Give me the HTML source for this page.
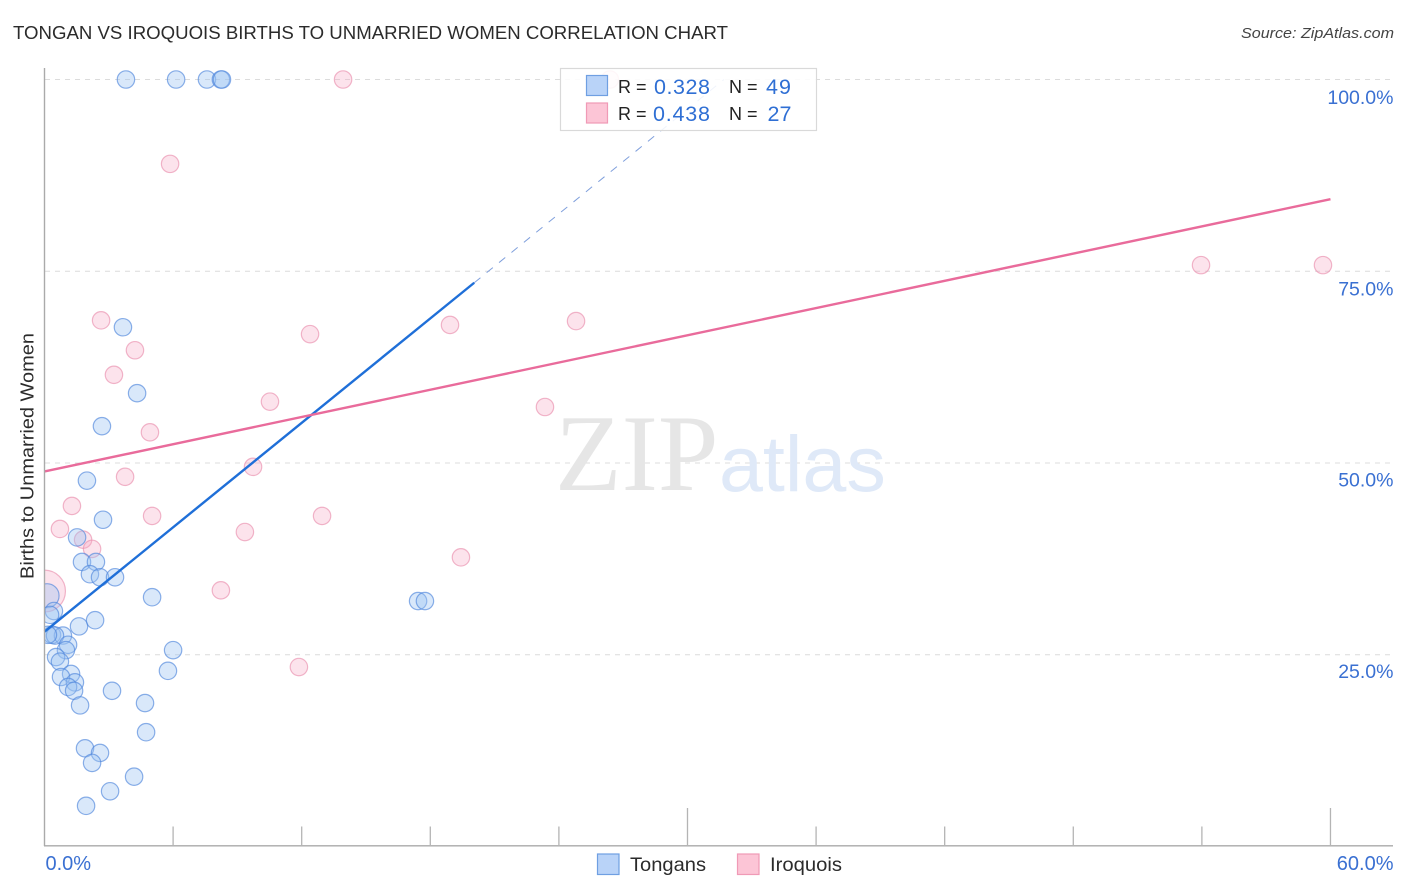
<!DOCTYPE html>
<html lang="en">
<head>
<meta charset="utf-8">
<title>Tongan vs Iroquois Births to Unmarried Women Correlation Chart</title>
<style>
html,body{margin:0;padding:0;background:#fff;}
body{width:1406px;height:892px;overflow:hidden;}
svg{display:block;font-family:"Liberation Sans",sans-serif;}
</style>
</head>
<body>
<svg id="chart" width="1406" height="892" viewBox="0 0 1406 892" xmlns="http://www.w3.org/2000/svg">
  <defs>
    <clipPath id="plot-clip"><rect x="45" y="60" width="1350" height="786"></rect></clipPath>
  </defs>
  <rect x="0" y="0" width="1406" height="892" fill="#fff"></rect>
  <text x="13" y="39" font-size="18.5" fill="#2b2b2b" textLength="715" lengthAdjust="spacingAndGlyphs">TONGAN VS IROQUOIS BIRTHS TO UNMARRIED WOMEN CORRELATION CHART</text>
  <text x="1241" y="38" font-size="15" font-style="italic" fill="#444" textLength="153" lengthAdjust="spacingAndGlyphs">Source: ZipAtlas.com</text>
  <text transform="translate(33.5,579) rotate(-90)" font-size="18.5" fill="#2b2b2b" textLength="246" lengthAdjust="spacingAndGlyphs">Births to Unmarried Women</text>
  <g id="grid"></g>
  <g>
    <text x="555" y="490" font-family="'Liberation Serif',serif" font-size="109" fill="#e6e6e6">ZIP</text>
    <text x="719" y="491" font-size="79" fill="#dfe9f8">atlas</text>
  </g>
  <g id="points" clip-path="url(#plot-clip)"></g>
  <g id="lines"></g>
  <g id="axes"></g>
  <g>
    <rect x="560.5" y="68.5" width="256" height="62" fill="#fff" fill-opacity="0.88" stroke="#d9d9d9" stroke-width="1.2"></rect>
    <rect x="586.5" y="75.5" width="21" height="20" fill="#b9d3f8" stroke="#6f9fe2" stroke-width="1.2"></rect>
    <rect x="586.5" y="103" width="21" height="20" fill="#fcc5d6" stroke="#f09ab6" stroke-width="1.2"></rect>
    <g font-size="18" fill="#222">
      <text x="618" y="93">R =</text>
      <text x="729" y="93">N =</text>
      <text x="618" y="120">R =</text>
      <text x="729" y="120">N =</text>
    </g>
    <g font-size="21.5" fill="#2f6fd4">
      <text x="654" y="94" textLength="56">0.328</text>
      <text x="766" y="94" textLength="25">49</text>
      <text x="653" y="121" textLength="57">0.438</text>
      <text x="767.5" y="121" textLength="24">27</text>
    </g>
  </g>
  <g>
    <rect x="597.5" y="854" width="21.5" height="20.5" fill="#b9d3f8" stroke="#6f9fe2" stroke-width="1.2"></rect>
    <text x="630" y="871" font-size="19.5" fill="#2b2b2b" textLength="76" lengthAdjust="spacingAndGlyphs">Tongans</text>
    <rect x="737.5" y="854" width="21.5" height="20.5" fill="#fcc5d6" stroke="#f09ab6" stroke-width="1.2"></rect>
    <text x="770" y="871" font-size="19.5" fill="#2b2b2b" textLength="72" lengthAdjust="spacingAndGlyphs">Iroquois</text>
  </g>
</svg>
<script>
const tonganX = [3.80,6.14,7.58,8.23,8.28,3.66,4.32,2.68,1.98,2.73,1.52,1.75,2.40,2.12,2.59,3.29,5.02,0.12,0.44,0.26,1.61,2.36,0.35,0.86,0.49,0.16,1.10,1.00,6.00,0.54,0.72,5.76,1.24,0.77,1.42,1.10,1.38,3.15,1.66,4.69,4.74,1.89,2.59,2.22,4.18,3.06,1.94,17.43,17.75];
const tonganY = [100,100,100,100,100,67.7,59.1,54.8,47.7,42.6,40.3,37.1,37.1,35.5,35.1,35.1,32.5,32.7,30.7,30.2,28.7,29.5,27.6,27.5,27.5,27.6,26.3,25.6,25.6,24.7,24.1,22.9,22.5,22.1,21.4,20.8,20.3,20.3,18.4,18.7,14.9,12.8,12.2,10.9,9.1,7.2,5.3,32.0,32.0];
const tonganWeight = [1,1,1,1,1,1,1,1,1,1,1,1,1,1,1,1,1,1.9,1,1,1,1,1,1,1,1,1,1,1,1,1,1,1,1,1,1,1,1,1,1,1,1,1,1,1,1,1,1,1];
const iroquoisX = [13.93,5.86,53.96,59.65,2.64,18.92,12.39,24.80,4.22,3.24,10.52,23.35,4.92,9.73,3.76,1.28,5.02,12.95,0.72,9.35,1.80,2.22,19.43,8.23,0,11.87,26.38];
const iroquoisY = [100,89.0,75.8,75.8,68.6,68.0,66.8,68.5,64.7,61.5,58.0,57.3,54.0,49.5,48.2,44.4,43.1,43.1,41.4,41.0,40.0,38.8,37.7,33.4,33.3,23.4,100];
const iroquoisWeight = [1,1,1,1,1,1,1,1,1,1,1,1,1,1,1,1,1,1,1,1,1,1,1,1,5.8,1,1];
const tonganTrendX = [0,20.05];
const tonganTrendY = [28.0,73.5];
const tonganProjectionX = [20.05,31.7];
const tonganProjectionY = [73.5,100];
const iroquoisTrendX = [0,60];
const iroquoisTrendY = [48.9,84.4];
const yTicks = [100,75,50,25];
const yTickLabels = ["100.0%","75.0%","50.0%","25.0%"];
const xTicks = [6,12,18,24,30,36,42,48,54,60];
const xMajorTicks = [30,60];
const xEndLabels = ["0.0%","60.0%"];

const NS = 'http://www.w3.org/2000/svg';
function xScale(v){ return 44.5 + v * 21.433; }
function yScale(v){ return 846.5 - v * 7.67; }
function radius(w){ return 8.7 * Math.sqrt(w); }
function make(parent, tag, attrs){
  const el = document.createElementNS(NS, tag);
  for (const k in attrs) el.setAttribute(k, attrs[k]);
  parent.appendChild(el);
  return el;
}

const grid = document.getElementById('grid');
yTicks.forEach(function(t){
  const el = make(grid, 'line', {x1:45, x2:1393, y1:yScale(t), y2:yScale(t), stroke:'#dcdcdc', 'stroke-width':1, 'stroke-dasharray':'5 5'});
  
  
});

const points = document.getElementById('points');
iroquoisX.forEach(function(x, i){
  const el = make(points, 'circle', {cx:xScale(x), cy:yScale(iroquoisY[i]), r:radius(iroquoisWeight[i]), fill:'#f5a9c3', 'fill-opacity':0.32, stroke:'#ea8fae', 'stroke-opacity':0.65, 'stroke-width':1.2});
  
  
});
tonganX.forEach(function(x, i){
  const el = make(points, 'circle', {cx:xScale(x), cy:yScale(tonganY[i]), r:radius(tonganWeight[i]), fill:'#9cc2f2', 'fill-opacity':0.38, stroke:'#4f86dc', 'stroke-opacity':0.65, 'stroke-width':1.2});
  
  
});

const lines = document.getElementById('lines');
const tonganProjection = make(lines, 'line', {x1:xScale(tonganProjectionX[0]), y1:yScale(tonganProjectionY[0]), x2:xScale(tonganProjectionX[1]), y2:yScale(tonganProjectionY[1]), stroke:'#7f9fdc', 'stroke-width':1, 'stroke-dasharray':'8 8'});


const tonganTrend = make(lines, 'line', {x1:xScale(tonganTrendX[0]), y1:yScale(tonganTrendY[0]), x2:xScale(tonganTrendX[1]), y2:yScale(tonganTrendY[1]), stroke:'#1f6fd8', 'stroke-width':2.4});


const iroquoisTrend = make(lines, 'line', {x1:xScale(iroquoisTrendX[0]), y1:yScale(iroquoisTrendY[0]), x2:xScale(iroquoisTrendX[1]), y2:yScale(iroquoisTrendY[1]), stroke:'#e96b9b', 'stroke-width':2.4});



const axes = document.getElementById('axes');
const yAxis = make(axes, 'line', {x1:44.5, x2:44.5, y1:68, y2:846, stroke:'#aaa', 'stroke-width':1.4});


const xAxis = make(axes, 'line', {x1:44, x2:1393, y1:845.8, y2:845.8, stroke:'#aaa', 'stroke-width':1.4});


xTicks.forEach(function(t){
  const el = make(axes, 'line', {x1:xScale(t), x2:xScale(t), y1:xMajorTicks.indexOf(t) >= 0 ? 808 : 826.5, y2:846, stroke:'#b4b4b4', 'stroke-width':1.3});
  
  
});
yTicks.forEach(function(t, i){
  const el = make(axes, 'text', {x:1393.5, y:yScale(t) + 23 + (t - 25) * 0.02, 'font-size':19.5, fill:'#3a70d2', 'text-anchor':'end'});
  
  
  el.textContent = yTickLabels[i];
});
const xLabelStart = make(axes, 'text', {x:45.5, y:870, 'font-size':20, fill:'#3a70d2'});


xLabelStart.textContent = xEndLabels[0];
const xLabelEnd = make(axes, 'text', {x:1393.5, y:870, 'font-size':20, fill:'#3a70d2', 'text-anchor':'end'});


xLabelEnd.textContent = xEndLabels[1];
</script>
</body>
</html>
